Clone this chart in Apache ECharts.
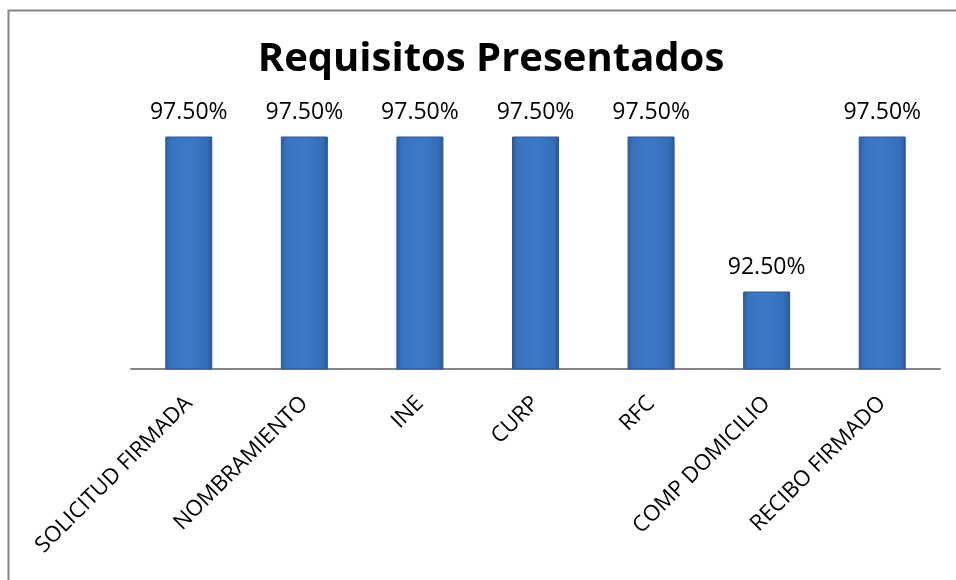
<!DOCTYPE html>
<html>
<head>
<meta charset="utf-8">
<script src="https://cdn.jsdelivr.net/npm/echarts@6/dist/echarts.min.js"></script>
<style>
html,body{margin:0;padding:0;background:#fff;overflow:hidden;}
#chart{width:956px;height:580px;}
</style>
</head>
<body>
<div id="chart"></div>
<script>
const categories = ['SOLICITUD FIRMADA','NOMBRAMIENTO','INE','CURP','RFC','COMP DOMICILIO','RECIBO FIRMADO'];
const values = [97.5, 97.5, 97.5, 97.5, 97.5, 92.5, 97.5];
const titleText = 'Requisitos Presentados';

const chart = echarts.init(document.getElementById('chart'), null, {renderer:'canvas'});
const barColor = new echarts.graphic.LinearGradient(0,0,1,0,[
  {offset:0, color:'#2c5da0'},
  {offset:0.12, color:'#3973bf'},
  {offset:0.5, color:'#3c79c8'},
  {offset:0.88, color:'#356eb8'},
  {offset:1, color:'#29579a'}
]);
chart.setOption({
  backgroundColor:'#ffffff',
  animation:false,
  title:{
    text:titleText,
    left:486,
    top:35,
    textAlign:'center',
    textStyle:{fontFamily:'Open Sans', fontWeight:'bold', fontSize:40, color:'#000'}
  },
  grid:{left:131, right:16, top:59, bottom:211, containLabel:false},
  xAxis:{
    type:'category',
    data:categories,
    axisLine:{show:true, lineStyle:{color:'#868686', width:2}},
    axisTick:{show:false},
    axisLabel:{rotate:45, interval:0, margin:31, fontFamily:'Open Sans', fontSize:22, color:'#000'}
  },
  yAxis:{
    type:'value', min:90, max:100, interval:2,
    show:false, splitLine:{show:false}
  },
  graphic:[
    {type:'polyline', shape:{points:[[8.5,580],[8.5,10.5],[956,10.5]]}, style:{stroke:'#868686', lineWidth:2, fill:null}}
  ],
  series:[{
    type:'bar',
    data:values,
    barWidth:47,
    itemStyle:{color:barColor, borderColor:'#2b5897', borderWidth:1},
    label:{
      show:true, position:'top', distance:13,
      formatter:p => p.value.toFixed(2) + '%',
      fontFamily:'Open Sans', fontSize:23, color:'#000'
    }
  }]
});
</script>
</body>
</html>
